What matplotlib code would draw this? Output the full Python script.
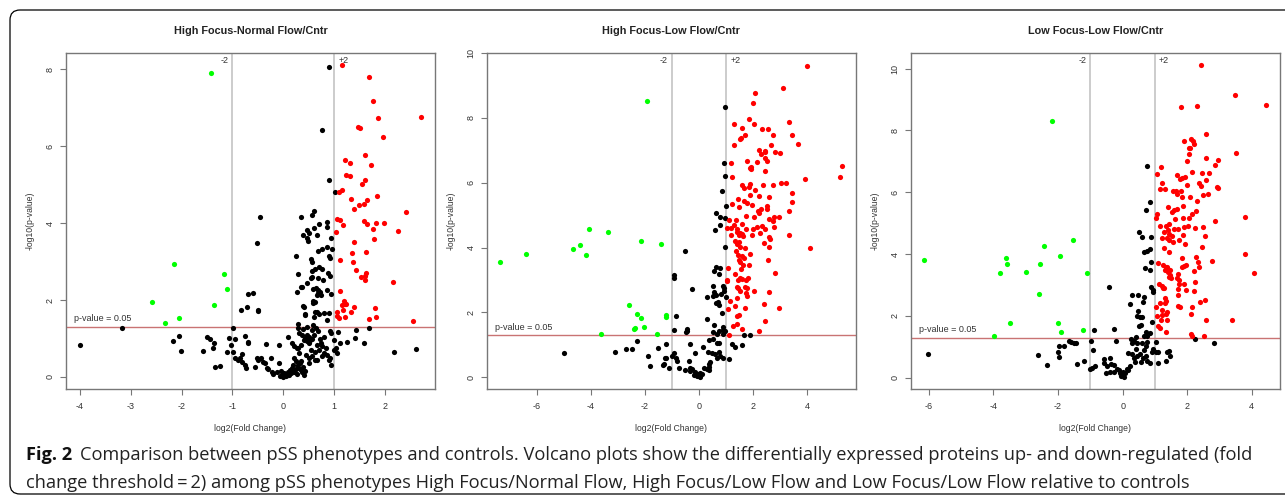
import matplotlib
matplotlib.use('Agg')
import matplotlib.pyplot as plt
import matplotlib.transforms as mtransforms
from matplotlib import font_manager
from matplotlib.patches import FancyBboxPatch

# ---- data: (log2 fold change, -log10 p) ----
titles = ['High Focus-Normal Flow/Cntr', 'High Focus-Low Flow/Cntr', 'Low Focus-Low Flow/Cntr']

hfnf_down = [(-1.42, 7.90), (-2.14, 2.94), (-2.57, 1.94), (-2.05, 1.52), (-2.32, 1.39),
             (-1.36, 1.88), (-1.16, 2.67), (-1.10, 2.29)]
hfnf_up = [(1.15, 8.10), (1.68, 7.81), (1.77, 7.17), (1.85, 6.73), (2.71, 6.77), (1.95, 6.25),
           (1.46, 6.50), (1.50, 6.47), (1.61, 5.77), (1.72, 5.52), (1.22, 5.64), (1.31, 5.56),
           (1.23, 5.25), (1.31, 5.23), (1.54, 5.03), (1.61, 5.13), (1.10, 4.80), (1.16, 4.87),
           (1.32, 4.64), (1.83, 4.70), (1.65, 4.60), (1.48, 4.48), (1.59, 4.50), (1.38, 4.36),
           (2.41, 4.30), (1.06, 4.10), (1.12, 4.08), (1.17, 3.94), (1.59, 4.05), (1.64, 3.97),
           (1.82, 3.99), (1.98, 4.00), (1.04, 3.77), (1.76, 3.84), (2.25, 3.79), (1.78, 3.58),
           (1.38, 3.50), (1.34, 3.23), (1.62, 3.26), (1.12, 3.03), (1.37, 2.98), (1.43, 2.78),
           (1.53, 2.59), (1.62, 2.71), (1.61, 2.62), (1.60, 2.52), (2.16, 2.48), (1.12, 2.23),
           (1.19, 1.97), (1.22, 1.90), (1.16, 1.88), (1.24, 1.89), (1.39, 1.81), (1.80, 1.80),
           (1.06, 1.68), (1.17, 1.74), (1.33, 1.68), (1.05, 1.58), (1.09, 1.52), (1.22, 1.55),
           (1.82, 1.56), (1.68, 1.50), (2.55, 1.45)]
hfnf_ns = [(-4.00, 0.84), (-3.17, 1.26), (-2.16, 0.93), (-2.05, 1.06), (-2.01, 0.68), (-1.58, 0.68),
           (-1.49, 1.03), (-1.45, 0.99), (-1.39, 0.75), (-1.36, 0.87), (-1.34, 0.27), (-1.25, 0.29),
           (-1.11, 0.66), (-1.06, 1.01), (-0.98, 1.27), (-0.95, 0.99), (-1.03, 0.83), (-0.76, 1.06),
           (-0.69, 0.92), (-0.70, 0.87), (-0.98, 0.66), (-0.82, 0.59), (-0.94, 0.48), (-0.90, 0.44),
           (-0.86, 0.50), (-0.81, 0.40), (-0.76, 0.31), (-0.74, 0.23), (-0.52, 0.50), (-0.50, 0.44),
           (-0.44, 0.50), (-0.39, 0.40), (-0.36, 0.35), (-0.25, 0.48), (-0.33, 0.23), (-0.30, 0.20),
           (-0.56, 0.27), (-0.22, 0.14), (-0.20, 0.07), (-0.13, 0.12), (-0.09, 0.36), (-0.34, 0.86),
           (-0.09, 0.83), (-0.84, 1.75), (-0.72, 1.82), (-0.70, 2.15), (-0.60, 2.18), (-0.50, 1.71),
           (-0.49, 1.74), (-0.52, 3.49), (-0.46, 4.16),
           (-0.07, 0.03), (0.00, 0.01), (-0.03, 0.05), (0.04, 0.04), (0.07, 0.07), (0.10, 0.13),
           (0.13, 0.17), (0.17, 0.22), (0.20, 0.14), (0.23, 0.17), (0.26, 0.24), (0.29, 0.31),
           (0.33, 0.36), (0.35, 0.42), (0.39, 0.27), (0.43, 0.16), (0.50, 0.36), (0.51, 0.49),
           (0.21, 0.50), (0.24, 0.41), (0.31, 0.62), (0.29, 0.74), (0.02, 0.10), (0.06, 0.02),
           (-0.04, 0.15), (0.12, 0.05), (0.16, 0.10), (0.19, 0.32), (0.27, 0.08), (0.33, 0.20),
           (0.37, 0.12), (0.40, 0.05),
           (0.09, 1.03), (0.17, 0.87), (0.21, 0.81), (0.26, 0.74), (0.34, 0.83), (0.40, 0.96),
           (0.46, 1.09), (0.50, 1.05), (0.52, 0.96), (0.56, 0.99), (0.51, 0.87), (0.67, 0.83),
           (0.74, 0.87), (0.75, 0.80), (1.03, 0.76), (1.00, 0.95), (1.12, 0.89), (1.25, 0.90),
           (1.40, 1.02), (1.58, 0.87), (2.17, 0.64), (2.60, 0.72), (0.67, 0.44), (0.76, 0.55),
           (0.79, 0.62), (0.91, 0.50), (0.90, 0.44), (0.94, 0.31), (0.85, 0.57), (1.05, 0.62),
           (1.00, 0.69), (0.55, 0.70), (0.62, 0.66), (0.45, 0.58), (0.31, 1.13), (0.36, 1.08),
           (0.42, 1.00), (0.47, 0.93), (0.60, 1.10), (0.72, 0.98), (0.80, 1.05), (0.84, 0.75),
           (0.62, 0.45), (0.57, 0.55), (0.71, 0.70),
           (0.29, 1.38), (0.29, 1.26), (0.39, 1.25), (0.59, 1.35), (0.64, 1.26), (0.47, 1.31),
           (0.56, 1.22), (0.68, 1.20), (0.91, 1.19), (0.93, 1.13), (1.08, 1.18), (1.42, 1.23),
           (1.68, 1.26),
           (0.63, 1.70), (0.67, 1.68), (0.70, 1.63), (0.80, 1.65), (0.90, 1.65), (0.42, 1.61),
           (0.43, 1.63), (0.61, 1.57), (0.85, 1.48), (0.58, 1.98), (0.59, 1.92), (0.63, 1.94),
           (0.39, 1.84), (0.40, 1.82), (0.34, 2.33), (0.36, 2.34), (0.64, 2.30), (0.68, 2.25),
           (0.58, 2.29), (0.69, 2.17), (0.67, 2.13), (0.73, 2.13), (0.72, 2.22), (0.86, 2.25),
           (0.93, 2.16), (0.26, 2.20), (0.70, 2.87), (0.63, 2.81), (0.76, 2.80), (0.56, 2.75),
           (0.29, 2.67), (0.69, 2.58), (0.55, 2.58), (0.78, 2.52), (0.88, 2.69), (0.91, 2.62),
           (0.47, 2.44), (0.57, 2.60), (0.25, 3.14), (0.54, 3.06), (0.56, 2.98), (0.69, 3.28),
           (0.76, 3.32), (0.85, 3.37), (0.95, 3.32), (0.89, 3.15), (0.91, 3.08), (0.47, 3.82),
           (0.50, 3.73), (0.38, 3.69), (0.46, 3.60), (0.49, 3.53), (0.60, 3.88), (0.67, 3.69),
           (0.85, 3.89), (0.93, 3.62), (0.71, 3.98), (0.86, 4.02), (0.35, 4.16), (0.56, 4.20),
           (0.60, 4.31), (0.89, 8.07), (0.75, 6.43), (0.89, 5.11), (1.005, 4.81)]

hflf_down = [(-1.91, 8.52), (-7.34, 3.55), (-6.40, 3.81), (-4.66, 3.96), (-4.40, 4.07), (-4.08, 4.56),
             (-4.18, 3.77), (-3.38, 4.47), (-2.13, 4.20), (-1.40, 4.11), (-2.58, 2.24), (-2.31, 1.95),
             (-2.15, 1.84), (-1.24, 1.93), (-1.24, 1.87), (-2.35, 1.53), (-2.41, 1.48), (-2.03, 1.54),
             (-3.64, 1.33), (-1.54, 1.33)]
hflf_up = [(3.99, 9.61), (3.10, 8.92), (2.05, 8.78), (1.98, 8.46), (1.85, 7.95), (2.02, 7.81),
           (1.28, 7.82), (1.59, 7.69), (1.71, 7.46), (1.51, 7.34), (1.56, 7.38), (2.32, 7.67),
           (2.56, 7.65), (2.72, 7.47), (3.32, 7.87), (3.44, 7.48), (3.64, 7.19), (1.28, 7.16),
           (2.64, 7.15), (2.20, 7.01), (2.42, 6.99), (2.29, 6.90), (2.44, 6.94), (2.80, 6.95),
           (2.99, 6.91), (2.42, 6.75), (2.52, 6.67), (1.78, 6.66), (2.13, 6.64), (1.18, 6.61),
           (1.87, 6.46), (1.93, 6.47), (1.90, 6.42), (2.44, 6.37), (5.28, 6.50), (5.20, 6.19),
           (3.91, 6.12), (1.23, 6.17), (1.57, 5.94), (1.89, 5.96), (1.83, 5.88), (2.35, 5.92),
           (2.72, 5.92), (3.01, 5.99), (3.22, 5.98), (1.66, 5.83), (2.07, 5.78), (1.88, 5.62),
           (2.20, 5.59), (2.57, 5.57), (3.44, 5.68), (3.42, 5.41), (1.43, 5.49), (1.65, 5.45),
           (1.78, 5.38), (1.49, 5.25), (1.94, 5.30), (2.30, 5.20), (2.50, 5.28), (2.50, 5.19),
           (2.17, 5.12), (1.21, 5.35), (3.32, 5.12), (1.72, 4.98), (2.21, 5.08), (2.03, 4.95),
           (2.77, 4.95), (2.94, 4.94), (2.72, 4.82), (2.60, 4.88), (1.11, 4.85), (1.38, 4.85),
           (1.57, 4.73), (2.77, 4.64), (1.03, 4.61), (1.19, 4.61), (1.29, 4.69), (1.41, 4.58),
           (1.39, 4.48), (1.46, 4.38), (1.51, 4.46), (1.59, 4.43), (1.64, 4.36), (1.73, 4.58),
           (1.98, 4.56), (2.15, 4.63), (2.25, 4.46), (2.45, 4.58), (2.31, 4.65), (2.60, 4.32),
           (2.62, 4.26), (2.40, 4.15), (2.60, 4.01), (1.96, 4.38), (3.31, 4.38), (4.10, 3.99),
           (1.18, 4.38), (1.33, 4.19), (1.41, 4.12), (1.49, 4.17), (1.37, 3.88), (1.44, 3.78),
           (1.51, 4.01), (1.71, 3.99), (1.60, 3.73), (1.66, 3.68), (1.87, 3.80), (1.46, 3.63),
           (1.51, 3.56), (1.64, 3.47), (1.86, 3.45), (1.56, 3.35), (2.56, 3.61), (1.06, 3.38),
           (1.34, 3.17), (1.50, 3.07), (1.43, 3.01), (1.58, 3.04), (1.73, 2.99), (1.80, 3.06),
           (2.82, 3.22), (1.02, 2.96), (1.04, 3.01), (1.39, 2.78), (1.45, 2.74), (1.71, 2.79),
           (1.77, 2.74), (1.51, 2.65), (1.73, 2.60), (2.04, 2.65), (2.60, 2.63), (1.39, 2.45),
           (1.76, 2.49), (1.14, 2.36), (1.32, 2.21), (2.40, 2.27), (1.69, 2.13), (2.95, 2.14),
           (1.39, 1.88), (1.46, 1.93), (1.24, 1.58), (1.39, 1.63), (1.59, 1.50), (2.42, 1.72),
           (2.21, 1.44), (1.12, 1.29), (1.08, 2.10)]
hflf_ns = [(-4.98, 0.75), (-3.12, 0.79), (-2.69, 0.88), (-2.47, 0.88), (-2.31, 1.12), (-1.87, 0.66),
           (-1.81, 0.35), (-1.35, 0.37), (-1.30, 0.40), (-1.50, 0.90), (-1.23, 1.02), (-1.23, 0.58),
           (-1.12, 0.29), (-0.53, 3.90), (-0.91, 3.14), (-0.93, 3.05), (-0.25, 2.72), (-0.85, 1.88),
           (-0.93, 1.47), (-0.47, 1.39), (-0.43, 1.50), (-0.45, 1.44), (-1.00, 0.66), (-0.92, 0.76),
           (-0.87, 0.58), (-0.80, 0.49), (-1.27, 0.60), (-0.73, 0.27), (-0.53, 0.21), (-0.38, 0.49),
           (-0.33, 0.29), (-0.26, 0.25), (-0.32, 0.19), (-0.14, 0.16), (-0.18, 0.08), (-0.09, 0.04),
           (0.01, 0.04), (0.11, 0.09), (0.04, 0.12), (-0.05, 0.10), (0.05, 0.02), (0.18, 0.27),
           (0.28, 0.25), (0.38, 0.21), (0.35, 0.33), (0.38, 0.40), (0.41, 0.47), (0.16, 0.94),
           (-0.14, 0.76), (-0.32, 1.03), (0.33, 0.78), (0.46, 0.75), (0.60, 0.73), (0.73, 0.78),
           (0.77, 0.65), (0.67, 0.60), (0.87, 0.58), (1.09, 0.55), (0.36, 1.15), (0.53, 1.19),
           (0.75, 1.05), (0.68, 1.05), (1.22, 1.03), (1.59, 0.99), (1.34, 0.92), (1.66, 1.29),
           (1.88, 1.29), (0.55, 1.60), (0.90, 1.55), (0.88, 1.47), (0.97, 1.44), (0.73, 1.42),
           (0.53, 1.40), (0.65, 1.32), (0.88, 1.32), (0.28, 1.80), (0.85, 1.99), (0.70, 2.32),
           (0.74, 2.22), (0.63, 2.28), (0.28, 2.47), (1.00, 2.48), (0.55, 2.63), (0.63, 2.55),
           (0.53, 2.50), (0.50, 2.81), (0.87, 2.82), (0.92, 2.74), (0.92, 2.66), (0.82, 2.58),
           (0.63, 3.40), (0.78, 3.37), (0.55, 3.27), (0.73, 3.19), (0.97, 4.01), (0.60, 4.54),
           (0.77, 4.71), (0.95, 4.91), (0.77, 4.95), (0.63, 5.05), (0.98, 5.27), (0.86, 5.75),
           (0.95, 6.22), (0.91, 6.62), (0.95, 8.32)]

lflf_down = [(-2.20, 8.29), (-6.14, 3.81), (-3.62, 3.87), (-3.58, 3.68), (-3.81, 3.38), (-2.98, 3.41),
             (-2.43, 4.27), (-2.57, 3.69), (-1.94, 3.95), (-1.54, 4.46), (-1.10, 3.38), (-2.58, 2.71),
             (-3.49, 1.76), (-2.00, 1.78), (-1.92, 1.47), (-1.24, 1.54), (-3.99, 1.36)]
lflf_up = [(2.43, 10.10), (3.48, 9.16), (4.45, 8.82), (1.80, 8.75), (2.30, 8.78), (2.57, 7.87),
           (1.89, 7.66), (2.12, 7.71), (2.18, 7.66), (2.21, 7.55), (2.04, 7.42), (2.09, 7.42),
           (2.07, 7.24), (3.51, 7.28), (1.18, 6.81), (1.98, 7.01), (2.57, 7.12), (2.95, 7.03),
           (2.85, 6.89), (1.06, 6.58), (1.68, 6.57), (1.77, 6.43), (1.85, 6.45), (1.93, 6.49),
           (2.14, 6.65), (2.47, 6.62), (2.68, 6.62), (1.23, 6.31), (2.38, 6.31), (2.44, 6.21),
           (2.59, 6.40), (2.91, 6.16), (2.95, 6.15), (1.16, 6.11), (1.30, 6.09), (1.57, 6.04),
           (1.64, 6.04), (1.68, 5.95), (1.80, 6.04), (1.98, 6.22), (2.08, 5.83), (1.85, 5.84),
           (2.49, 5.91), (2.64, 5.95), (2.30, 5.73), (2.85, 5.08), (3.78, 5.21), (1.05, 5.30),
           (1.04, 5.18), (1.40, 5.53), (1.52, 5.36), (1.60, 5.44), (1.68, 5.45), (1.87, 5.56),
           (2.16, 5.31), (2.28, 5.39), (1.43, 4.98), (1.61, 5.12), (1.88, 5.18), (2.07, 5.18),
           (1.17, 4.90), (1.35, 4.90), (1.42, 4.79), (1.29, 4.71), (1.43, 4.65), (1.58, 4.82),
           (1.70, 4.82), (1.89, 4.87), (2.01, 4.92), (2.24, 4.84), (2.49, 4.87), (1.22, 4.51),
           (1.37, 4.51), (1.43, 4.44), (1.52, 4.60), (1.56, 4.38), (1.74, 4.44), (1.87, 4.62),
           (1.93, 4.32), (2.55, 4.57), (2.47, 4.22), (1.29, 4.19), (1.43, 4.08), (3.80, 4.00),
           (2.76, 3.79), (4.07, 3.39), (1.84, 3.87), (2.28, 3.89), (2.34, 3.76), (1.95, 3.65),
           (1.91, 3.61), (1.85, 3.58), (2.38, 3.59), (2.20, 3.46), (1.11, 3.70), (1.25, 3.65),
           (1.33, 3.59), (1.31, 3.49), (1.37, 3.59), (1.40, 3.41), (1.48, 3.48), (1.43, 3.25),
           (1.50, 3.22), (1.48, 3.31), (1.70, 3.35), (1.68, 3.22), (1.74, 3.17), (1.74, 3.03),
           (1.91, 3.03), (1.97, 2.85), (2.24, 3.09), (2.22, 2.80), (1.12, 3.03), (1.21, 2.98),
           (1.29, 2.89), (1.25, 2.91), (1.72, 2.69), (1.70, 2.87), (2.41, 2.46), (2.55, 2.53),
           (1.31, 2.59), (1.33, 2.49), (1.31, 2.42), (1.15, 2.42), (1.04, 2.29), (1.21, 2.18),
           (1.37, 2.12), (1.72, 2.31), (2.16, 2.28), (2.12, 2.07), (1.06, 2.01), (1.23, 2.03),
           (1.35, 2.06), (1.19, 1.88), (1.37, 1.86), (2.59, 1.87), (3.40, 1.86), (1.08, 1.66),
           (1.15, 1.62), (1.33, 1.49), (2.12, 1.40), (2.16, 1.36), (2.53, 1.36), (1.78, 2.30)]
lflf_ns = [(-6.03, 0.77), (-2.63, 0.73), (-2.34, 0.41), (-2.00, 0.82), (-1.96, 0.68), (-1.97, 1.04),
           (-1.83, 1.03), (-1.67, 1.20), (-1.59, 1.16), (-1.52, 1.14), (-1.43, 1.14), (-1.42, 0.44),
           (-1.19, 0.53), (-0.99, 1.18), (-1.02, 0.29), (-0.92, 0.90), (-0.90, 1.54), (-0.95, 0.33),
           (-0.85, 0.38), (-0.42, 2.95), (-0.28, 1.58), (-0.22, 1.20), (-0.59, 0.60), (-0.57, 0.48),
           (-0.49, 0.39), (-0.38, 0.63), (-0.36, 0.45), (-0.28, 0.41), (-0.18, 0.28), (-0.07, 0.17),
           (-0.01, 0.09), (0.03, 0.04), (0.08, 0.15), (0.18, 0.26), (0.24, 0.39), (0.12, 0.30),
           (0.38, 0.50), (-0.51, 0.17), (-0.40, 0.19), (-0.28, 0.19), (-0.10, 0.25), (0.02, 0.20),
           (-0.05, 0.05), (0.18, 0.80), (0.28, 0.77), (0.34, 0.63), (0.44, 0.69), (0.55, 0.77),
           (0.63, 0.65), (0.73, 0.69), (0.75, 0.55), (0.57, 0.50), (0.86, 0.48), (1.08, 0.48),
           (1.35, 0.53), (0.42, 0.93), (0.67, 0.91), (0.94, 0.93), (1.04, 0.84), (1.10, 0.82),
           (0.90, 0.82), (1.37, 0.84), (1.43, 0.87), (1.46, 0.71), (2.24, 1.25), (2.84, 1.11),
           (0.26, 1.27), (0.36, 1.19), (0.30, 1.14), (0.46, 1.12), (0.59, 1.14), (0.77, 1.17),
           (0.71, 1.02), (1.04, 1.17), (0.40, 1.31), (0.67, 1.34), (0.75, 1.36), (0.84, 1.45),
           (0.71, 1.47), (0.51, 1.66), (0.57, 1.71), (0.92, 1.81), (0.46, 2.01), (0.55, 1.97),
           (0.61, 1.96), (0.49, 2.16), (0.24, 2.38), (0.63, 2.44), (0.67, 2.60), (0.30, 2.68),
           (0.49, 2.68), (0.94, 2.76), (0.94, 2.85), (0.88, 2.93), (0.86, 3.49), (0.69, 3.54),
           (0.88, 3.74), (0.67, 4.08), (0.75, 4.10), (0.84, 4.17), (0.51, 4.71), (0.61, 4.56),
           (0.88, 4.55), (0.73, 5.44), (0.86, 5.67), (0.76, 6.86)]

panels = [(hfnf_ns, hfnf_up, hfnf_down), (hflf_ns, hflf_up, hflf_down), (lflf_ns, lflf_up, lflf_down)]
xticks = [[-4, -3, -2, -1, 0, 1, 2], [-6, -4, -2, 0, 2, 4], [-6, -4, -2, 0, 2, 4]]
yticks = [[0, 2, 4, 6, 8], [0, 2, 4, 6, 8, 10], [0, 2, 4, 6, 8, 10]]

caption_bold = 'Fig. 2'
caption_l1 = ('Comparison between pSS phenotypes and controls. Volcano plots show the differentially '
              'expressed proteins up- and down-regulated (fold')
caption_l2 = ('change threshold\u2009=\u20092) among pSS phenotypes High Focus/Normal Flow, High Focus/Low Flow '
              'and Low Focus/Low Flow relative to controls')

W, H = 1285, 498
fig = plt.figure(figsize=(W / 100, H / 100), dpi=100)

names = {f.name for f in font_manager.fontManager.ttflist}
plot_font = 'Liberation Sans' if 'Liberation Sans' in names else 'DejaVu Sans'
cap_font = [f for f in ['Open Sans', 'Noto Sans'] if f in names][:1] + ['DejaVu Sans']
plt.rcParams['font.family'] = plot_font
plt.rcParams['axes.unicode_minus'] = False

# axes pixel boxes (left, right), shared top/bottom
ax_px = [(66, 435), (486.7, 855.7), (910.7, 1280)]
top, bot = 53, 389

for i, (l, r) in enumerate(ax_px):
    ax = fig.add_axes([l / W, 1 - bot / H, (r - l) / W, (bot - top) / H])
    ns, up, down = panels[i]
    for pts, col in [(ns, 'black'), (up, '#FF0000'), (down, '#00FF00')]:
        ax.scatter([p[0] for p in pts], [p[1] for p in pts], s=14, c=col, lw=0, zorder=3)
    ax.margins(0.04)
    ax.axvline(-1, color='#C4C4C4', lw=1.2, zorder=1)
    ax.axvline(1, color='#C4C4C4', lw=1.2, zorder=1)
    ax.axhline(1.3, color='#C97373', lw=1.0, zorder=1)
    xmin_data = min(p[0] for p in ns + up + down)
    ax.annotate('p-value = 0.05', (xmin_data, 1.3), xytext=(-4, 2.5), textcoords='offset points',
                ha='left', va='bottom', fontsize=6.5, color='#333333')
    tr = mtransforms.blended_transform_factory(ax.transData, ax.transAxes)
    ax.annotate('-2', (-1, 0.99), xycoords=tr, xytext=(-3, 0), textcoords='offset points',
                ha='right', va='top', fontsize=6.5, color='#333333')
    ax.annotate('+2', (1, 0.99), xycoords=tr, xytext=(3, 0), textcoords='offset points',
                ha='left', va='top', fontsize=6.5, color='#333333')
    ax.set_xticks(xticks[i])
    ax.set_yticks(yticks[i])
    ax.tick_params(length=4, width=0.8, color='#777777', labelsize=6.5, labelcolor='#333333')
    ax.tick_params(axis='x', pad=5)
    ax.tick_params(axis='y', pad=4, labelrotation=90)
    for lab in ax.get_yticklabels():
        lab.set_va('center')
    for sp in ax.spines.values():
        sp.set_color('#777777')
        sp.set_linewidth(1.0)
    cx = (l + r) / 2
    fig.text(cx / W, 1 - 31 / H, titles[i], ha='center', va='center', fontsize=7.8,
             fontweight='bold', color='#222222')
    fig.text(cx / W, 1 - 428 / H, 'log2(Fold Change)', ha='center', va='center', fontsize=6.2,
             color='#333333')
    fig.text((l - 36) / W, 1 - ((top + bot) / 2) / H, '-log10(p-value)', ha='center', va='center',
             rotation=90, fontsize=6.2, color='#333333')

# outer rounded frame
frame = FancyBboxPatch((0.10, 0.04), 12.95, 4.84, boxstyle='round,pad=0,rounding_size=0.1',
                       transform=fig.dpi_scale_trans, fill=False, lw=0.9, ec='black')
fig.patches.append(frame)

# caption, sized to fill the line width
renderer = fig.canvas.get_renderer()
fs = 13
x0, x1 = 26, 1258
tb = fig.text(x0 / W, 1 - 455 / H, caption_bold, fontsize=fs, fontweight='bold', family=cap_font,
              ha='left', va='center', color='#111111')
t1 = fig.text(0, 1 - 455 / H, caption_l1, fontsize=fs, family=cap_font, ha='left', va='center',
              color='#222222')
t2 = fig.text(x0 / W, 1 - 483 / H, caption_l2, fontsize=fs, family=cap_font, ha='left', va='center',
              color='#222222')
for _ in range(3):
    bb = tb.get_window_extent(renderer)
    t1.set_x((bb.x1 + 0.6 * fs) / W)
    b1 = t1.get_window_extent(renderer)
    fs *= (x1 - x0) / (b1.x1 - x0)
    for t in (tb, t1, t2):
        t.set_fontsize(fs)
bb = tb.get_window_extent(renderer)
t1.set_x((bb.x1 + 0.6 * fs) / W)

fig.savefig('out.png', dpi=100)
